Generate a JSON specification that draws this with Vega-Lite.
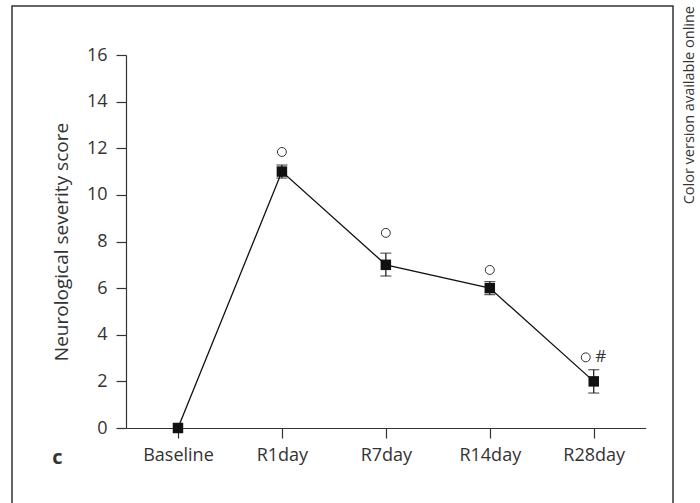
{
  "$schema": "https://vega.github.io/schema/vega-lite/v6.json",
  "autosize": {"type": "none"},
  "width": 661,
  "height": 498,
  "padding": {"left": 12, "top": 6, "right": 27, "bottom": 0},
  "background": "white",
  "view": {"stroke": "#333", "strokeWidth": 1.5},
  "config": {
    "font": "Open Sans",
    "axis": {"grid": false, "domainColor": "#333", "tickColor": "#333", "labelColor": "#333", "titleColor": "#333", "labelFont": "Open Sans", "titleFont": "Open Sans", "labelFontSize": 18, "titleFontSize": 19, "titleFontWeight": "normal", "domainWidth": 1.2, "tickWidth": 1.2}
  },
  "title": {"text": "Color version available online", "orient": "right", "anchor": "start", "angle": 270, "align": "right", "baseline": "top", "offset": -5, "fontSize": 14.5, "fontWeight": "normal", "color": "#333", "font": "Open Sans"},
  "data": {"values": [
    {"t": "Baseline", "m": 0},
    {"t": "R1day", "m": 11, "lo": 10.72, "hi": 11.28, "sig": 11.84},
    {"t": "R7day", "m": 7, "lo": 6.52, "hi": 7.5, "sig": 8.37},
    {"t": "R14day", "m": 6, "lo": 5.72, "hi": 6.28, "sig": 6.78},
    {"t": "R28day", "m": 2, "lo": 1.5, "hi": 2.5, "sig": 3.03, "hash": "#"}
  ]},
  "encoding": {
    "x": {"field": "t", "type": "nominal",
      "scale": {"type": "point", "domain": ["Baseline", "R1day", "R7day", "R14day", "R28day"], "range": [114, 633.7], "padding": 0.5},
      "axis": {"title": "c", "offset": -76, "tickSize": 10, "labelPadding": 8, "labelAngle": 0, "titleFontWeight": "bold", "titleFontSize": 20, "titleX": 45, "titleY": 35, "titleAlign": "center", "titleBaseline": "alphabetic", "titleAnchor": null}}
  },
  "layer": [
    {"mark": {"type": "line", "color": "#111", "strokeWidth": 1.3},
     "encoding": {"y": {"field": "m", "type": "quantitative",
       "scale": {"domain": [0, 16], "range": [422, 49], "nice": false, "zero": false},
       "axis": {"title": "Neurological severity score", "offset": -114, "values": [0,1,2,3,4,5,6,7,8,9,10,11,12,13,14,15,16],
         "labelExpr": "datum.value % 2 ? '' : datum.label",
         "tickSize": {"condition": {"test": "datum.value % 2 === 1", "value": 6}, "value": 10},
         "labelPadding": 9, "titlePadding": 15}}}},
    {"mark": {"type": "rule", "color": "#111", "strokeWidth": 1.2},
     "encoding": {"y": {"field": "lo", "type": "quantitative"}, "y2": {"field": "hi"}}},
    {"mark": {"type": "tick", "color": "#111", "size": 11, "thickness": 1.2},
     "encoding": {"y": {"field": "lo", "type": "quantitative"}}},
    {"mark": {"type": "tick", "color": "#111", "size": 11, "thickness": 1.2},
     "encoding": {"y": {"field": "hi", "type": "quantitative"}}},
    {"mark": {"type": "point", "shape": "square", "filled": true, "color": "#111", "size": 110, "opacity": 1},
     "encoding": {"y": {"field": "m", "type": "quantitative"}}},
    {"transform": [{"filter": "!datum.hash"}],
     "mark": {"type": "point", "shape": "circle", "filled": false, "color": "#333", "size": 80, "strokeWidth": 1, "opacity": 1},
     "encoding": {"y": {"field": "sig", "type": "quantitative"}}},
    {"transform": [{"filter": "datum.hash"}],
     "mark": {"type": "point", "shape": "circle", "filled": false, "color": "#333", "size": 80, "strokeWidth": 1, "opacity": 1},
     "encoding": {"y": {"field": "sig", "type": "quantitative"}, "xOffset": {"value": -8}}},
    {"transform": [{"filter": "datum.hash"}],
     "mark": {"type": "text", "dx": 7, "fontSize": 17, "color": "#333", "font": "Open Sans", "baseline": "middle"},
     "encoding": {"y": {"field": "sig", "type": "quantitative"}, "text": {"field": "hash"}}}
  ]
}
